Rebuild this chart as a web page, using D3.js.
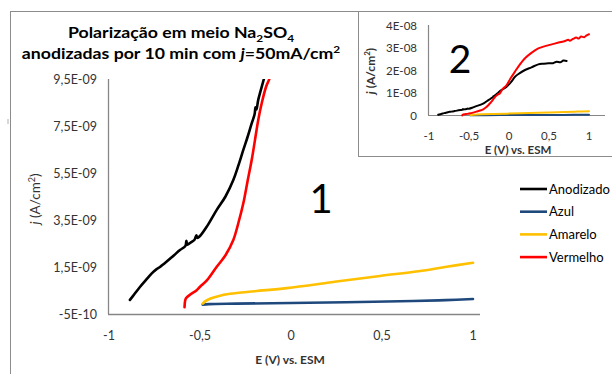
<!DOCTYPE html>
<html><head><meta charset="utf-8">
<script src="https://cdn.jsdelivr.net/npm/d3@7"></script>
<style>
html,body{margin:0;padding:0;background:#fff;}
svg{display:block;font-family:Lato,"Open Sans",sans-serif;}
</style></head>
<body><svg id="c" width="612" height="374"></svg>
<script>
// ---- data (E in V vs ESM, j in A/cm2 x 1e-9) ----
const seriesNames = ["Anodizado","Azul","Amarelo","Vermelho"];
const seriesColors = ["#000000","#1F497D","#FFC000","#FF0000"];
const anodizado = [[-0.885,0.1],[-0.86,0.35],[-0.83,0.65],[-0.80,0.92],[-0.765,1.23],[-0.74,1.4],[-0.72,1.5],[-0.683,1.73],[-0.65,1.95],[-0.61,2.22],[-0.58,2.4],[-0.575,2.62],[-0.57,2.45],[-0.55,2.55],[-0.53,2.66],[-0.52,2.85],[-0.515,2.74],[-0.5,2.82],[-0.46,3.25],[-0.408,3.93],[-0.36,4.5],[-0.317,5.2],[-0.29,5.8],[-0.262,6.48],[-0.24,7.0],[-0.216,7.61],[-0.2,8.0],[-0.195,8.3],[-0.19,8.2],[-0.18,8.61],[-0.148,9.53],[-0.1,11.0],[-0.05,12.0],[-0.009,13.3],[0.03,14.8],[0.075,17.0],[0.13,18.5],[0.2,20.0],[0.28,21.2],[0.366,22.5],[0.43,22.8],[0.49,23.0],[0.55,23.0],[0.596,23.7],[0.64,23.4],[0.68,24.2],[0.72,24.0]];
const azul = [[-0.485,-0.1],[-0.45,-0.08],[-0.3,-0.06],[0,-0.03],[0.3,0.0],[0.67,0.05],[0.85,0.09],[1.0,0.14]];
const amarelo = [[-0.485,-0.06],[-0.47,0.05],[-0.445,0.15],[-0.4,0.26],[-0.335,0.36],[-0.2,0.47],[-0.024,0.6],[0.25,0.88],[0.489,1.12],[0.7,1.32],[0.855,1.51],[1.0,1.68]];
const vermelho = [[-0.585,-0.21],[-0.582,0.05],[-0.577,0.17],[-0.55,0.35],[-0.52,0.5],[-0.50,0.66],[-0.46,0.95],[-0.408,1.51],[-0.36,2.0],[-0.317,2.65],[-0.29,3.35],[-0.262,4.21],[-0.24,5.1],[-0.216,6.05],[-0.198,6.9],[-0.180,7.76],[-0.16,8.5],[-0.137,9.17],[-0.115,9.6],[-0.08,11.5],[-0.029,13.3],[0.02,16.3],[0.075,19.3],[0.13,22.2],[0.2,25.2],[0.28,27.6],[0.366,29.6],[0.45,30.6],[0.534,31.4],[0.62,32.2],[0.70,32.9],[0.74,33.4],[0.76,33.0],[0.8,33.8],[0.84,34.4],[0.87,34.0],[0.9,34.9],[0.94,34.6],[0.97,35.4],[1.0,35.9]];
const seriesData = [anodizado, azul, amarelo, vermelho];
const mainXTicks = [-1,-0.5,0,0.5,1];
const mainYTicks = [-0.5,1.5,3.5,5.5,7.5,9.5];
const mainYTickLabels = ["-5E-10","1,5E-09","3,5E-09","5,5E-09","7,5E-09","9,5E-09"];
const insetXTicks = [-1,-0.5,0,0.5,1];
const insetYTicks = [0,10,20,30,40];
const insetYTickLabels = ["0","1E-08","2E-08","3E-08","4E-08"];
const fmtX = v => String(v).replace(".",",");

const svg = d3.select("#c");
const axisColor = "#868686";
const textColor = "#333";

// outer chart border
svg.append("rect").attr("x",10.5).attr("y",11.5).attr("width",640).attr("height",400)
  .attr("fill","#fff").attr("stroke","#8c8c8c").attr("stroke-width",1);
svg.append("line").attr("x1",8).attr("x2",8).attr("y1",119).attr("y2",124)
  .attr("stroke","#b0b0b0").attr("stroke-width",1);

// ---- main chart ----
const x = d3.scaleLinear().domain([-1,1]).range([109,473]);
const y = d3.scaleLinear().domain([-0.5,9.5]).range([314,79]);

svg.append("defs").append("clipPath").attr("id","mclip")
  .append("rect").attr("x",100).attr("y",79).attr("width",400).attr("height",260);

svg.append("line").attr("x1",108.5).attr("x2",108.5).attr("y1",y(9.5)).attr("y2",y(-0.5))
  .attr("stroke",axisColor).attr("stroke-width",1.3);
svg.append("line").attr("x1",108).attr("x2",480).attr("y1",y(-0.5)+0.5).attr("y2",y(-0.5)+0.5)
  .attr("stroke",axisColor).attr("stroke-width",1.3);

svg.selectAll(".myt").data(mainYTicks).enter().append("text")
  .attr("x",97).attr("y",d=>y(d)+4.5).attr("text-anchor","end")
  .attr("font-size",12.5).attr("fill",textColor).text((d,i)=>mainYTickLabels[i]);
svg.selectAll(".mxt").data(mainXTicks).enter().append("text")
  .attr("x",d=>x(d)).attr("y",340).attr("text-anchor","middle")
  .attr("font-size",12.5).attr("fill",textColor).text(fmtX);

const line = d3.line().curve(d3.curveCatmullRom.alpha(0.5)).x(d=>x(d[0])).y(d=>y(d[1]));
const gm = svg.append("g").attr("clip-path","url(#mclip)");
seriesData.forEach((s,i)=>{
  gm.append("path").datum(s).attr("d",line).attr("fill","none")
    .attr("stroke",seriesColors[i]).attr("stroke-width",2.6)
    .attr("stroke-linejoin","round").attr("stroke-linecap","round");
});

// titles (source image is horizontally stretched)
const tg = svg.append("g").attr("transform","translate(181,0) scale(1.18,1)");
const t1 = tg.append("text").attr("x",0).attr("y",38).attr("text-anchor","middle")
  .attr("font-size",15).attr("font-weight","bold").attr("fill","#000");
t1.append("tspan").text("Polarização em meio Na");
t1.append("tspan").attr("font-size",10).attr("dy",4).text("2");
t1.append("tspan").attr("dy",-4).text("SO");
t1.append("tspan").attr("font-size",10).attr("dy",4).text("4");
const t2 = tg.append("text").attr("x",0).attr("y",59).attr("text-anchor","middle")
  .attr("font-size",15).attr("font-weight","bold").attr("fill","#000");
t2.append("tspan").text("anodizadas por 10 min com ");
t2.append("tspan").attr("font-style","italic").text("j");
t2.append("tspan").text("=50mA/cm");
t2.append("tspan").attr("font-size",10).attr("dy",-6).text("2");

svg.append("text").attr("x",290).attr("y",364).attr("text-anchor","middle")
  .attr("font-size",12).attr("font-weight","bold").attr("fill",textColor).text("E (V) vs. ESM");

const yl = svg.append("text").attr("transform","translate(40,199) rotate(-90)")
  .attr("text-anchor","middle").attr("font-size",13.5).attr("fill",textColor);
yl.append("tspan").attr("font-style","italic").text("j");
yl.append("tspan").text(" (A/cm");
yl.append("tspan").attr("font-size",9).attr("dy",-5).text("2");
yl.append("tspan").attr("dy",5).text(")");

svg.append("text").attr("x",321).attr("y",213).attr("text-anchor","middle")
  .attr("font-size",40).attr("fill","#000").text("1");

// legend
const lg = svg.append("g");
seriesNames.forEach((n,i)=>{
  const yy = 189 + i*22.7;
  lg.append("line").attr("x1",520).attr("x2",547).attr("y1",yy).attr("y2",yy)
    .attr("stroke",seriesColors[i]).attr("stroke-width",2.6);
  lg.append("text").attr("x",549).attr("y",yy+4.5).attr("font-size",13).attr("fill","#000").text(n);
});

// ---- inset ----
svg.append("rect").attr("x",358.5).attr("y",11.5).attr("width",270).attr("height",145)
  .attr("fill","#fff").attr("stroke","#8c8c8c").attr("stroke-width",1);
const xi = d3.scaleLinear().domain([-1,1.2]).range([429,605]);
const yi = d3.scaleLinear().domain([0,40]).range([115,25]);
svg.append("line").attr("x1",428.5).attr("x2",428.5).attr("y1",yi(40)).attr("y2",yi(0))
  .attr("stroke",axisColor).attr("stroke-width",1.2);
svg.append("line").attr("x1",428).attr("x2",605).attr("y1",yi(0)+0.5).attr("y2",yi(0)+0.5)
  .attr("stroke",axisColor).attr("stroke-width",1.2);
svg.selectAll(".iyt").data(insetYTicks).enter().append("text")
  .attr("x",417).attr("y",d=>yi(d)+4.5).attr("text-anchor","end")
  .attr("font-size",11.5).attr("fill",textColor).text((d,i)=>insetYTickLabels[i]);
svg.selectAll(".ixt").data(insetXTicks).enter().append("text")
  .attr("x",d=>xi(d)).attr("y",140).attr("text-anchor","middle")
  .attr("font-size",11.5).attr("fill",textColor).text(fmtX);
const linei = d3.line().curve(d3.curveCatmullRom.alpha(0.5)).x(d=>xi(d[0])).y(d=>yi(d[1]));
seriesData.forEach((s,i)=>{
  svg.append("path").datum(s).attr("d",linei).attr("fill","none")
    .attr("stroke",seriesColors[i]).attr("stroke-width",2)
    .attr("stroke-linejoin","round").attr("stroke-linecap","round");
});
svg.append("text").attr("x",518).attr("y",154).attr("text-anchor","middle")
  .attr("font-size",11.5).attr("font-weight","bold").attr("fill",textColor).text("E (V) vs. ESM");
const yl2 = svg.append("text").attr("transform","translate(375,71) rotate(-90)")
  .attr("text-anchor","middle").attr("font-size",12).attr("font-weight","bold").attr("fill",textColor);
yl2.append("tspan").attr("font-style","italic").text("j");
yl2.append("tspan").text(" (A/cm");
yl2.append("tspan").attr("font-size",8).attr("dy",-5).text("2");
yl2.append("tspan").attr("dy",5).text(")");
svg.append("text").attr("x",460).attr("y",73).attr("text-anchor","middle")
  .attr("font-size",39).attr("fill","#000").text("2");
</script></body></html>
